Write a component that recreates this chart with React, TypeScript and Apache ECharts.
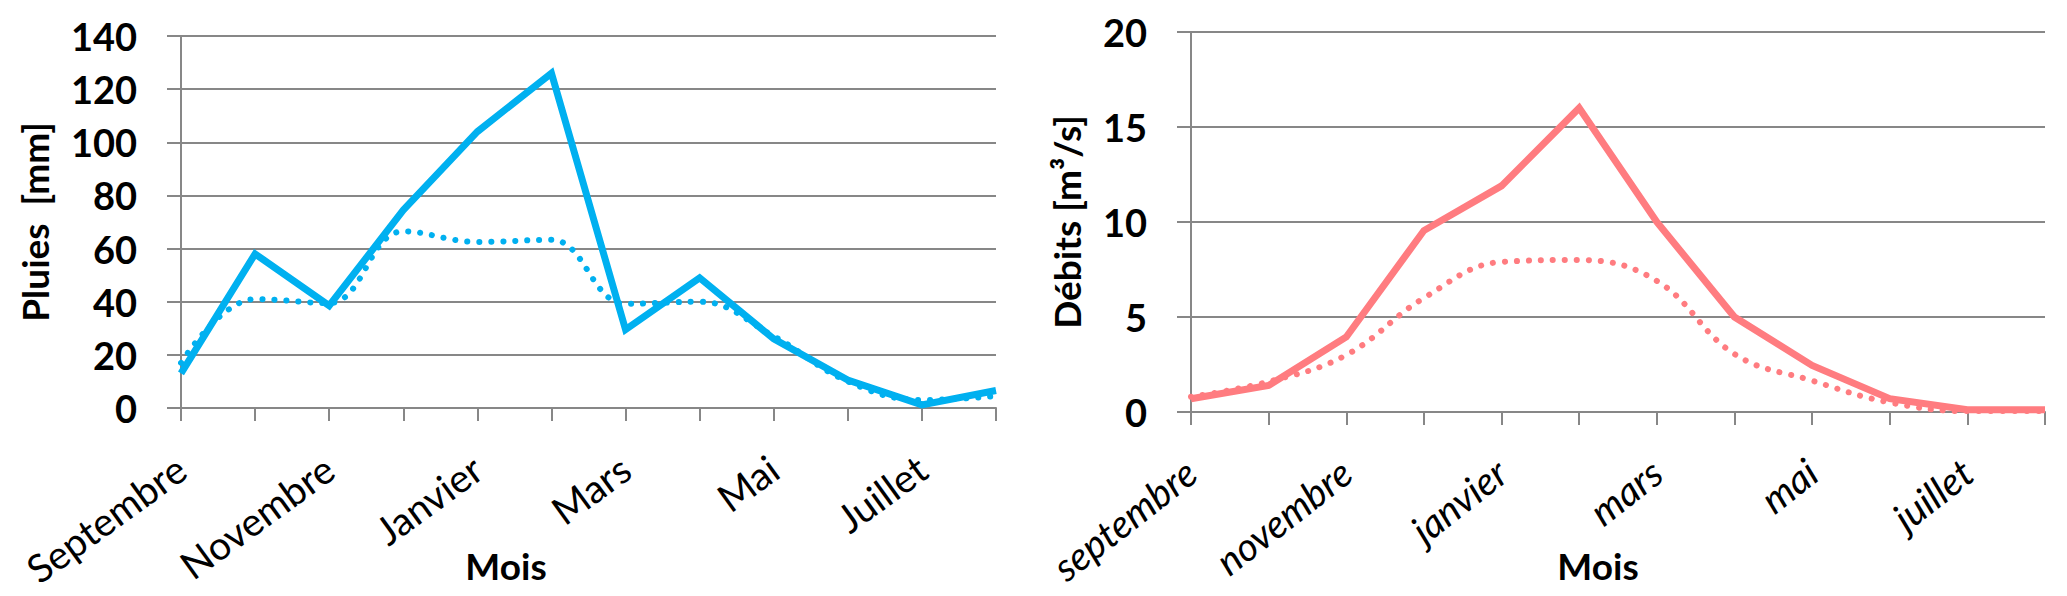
import React, { useEffect, useRef } from "react";
import * as echarts from "echarts";

const moisPluies = ["Septembre", "Octobre", "Novembre", "Décembre", "Janvier", "Février", "Mars", "Avril", "Mai", "Juin", "Juillet", "Août"];
const moisDebits = ["septembre", "octobre", "novembre", "décembre", "janvier", "février", "mars", "avril", "mai", "juin", "juillet", "août"];

const pluiesAnnee = [13, 58, 38.5, 74.5, 104, 126, 29.5, 49, 26, 10.5, 1.2, 6.6];
const pluiesMoyenne = [17, 41, 39.5, 66.5, 62.5, 63.3, 39.2, 40, 27, 10, 3, 4.5];

const debitsAnnee = [0.7, 1.4, 3.95, 9.55, 11.9, 16, 10, 5, 2.45, 0.7, 0.12, 0.12];
const debitsMoyenne = [0.8, 1.6, 3.0, 6.0, 7.9, 8.0, 6.9, 3.05, 1.65, 0.5, 0.05, 0.05];

const pluiesTicks = { min: 0, max: 140, interval: 20 };
const debitsTicks = { min: 0, max: 20, interval: 5 };

const BLUE = "#00B0F0";
const RED = "#FF7C80";
const GRAY = "#878787";
const FONT = "Lato, 'Open Sans', sans-serif";

function xAxis(data: string[], gridIndex: number, italic: boolean, rotate: number, margin: number) {
  return {
    type: "category",
    gridIndex,
    data,
    boundaryGap: false,
    axisLine: { show: true, lineStyle: { color: GRAY, width: 2 } },
    axisTick: { show: true, interval: 0, length: 13, lineStyle: { color: GRAY, width: 2 } },
    splitLine: { show: false },
    axisLabel: {
      interval: 1,
      rotate,
      margin,
      color: "#000",
      fontFamily: FONT,
      fontSize: 39,
      fontStyle: italic ? "italic" : "normal",
    },
  };
}

function yAxis(gridIndex: number, t: { min: number; max: number; interval: number }, name: string, nameGap: number) {
  return {
    type: "value",
    gridIndex,
    min: t.min,
    max: t.max,
    interval: t.interval,
    name,
    nameLocation: "middle",
    nameGap,
    nameRotate: 90,
    nameTextStyle: { color: "#000", fontFamily: FONT, fontWeight: "bold", fontSize: 37 },
    axisLine: { show: true, lineStyle: { color: GRAY, width: 2 } },
    axisTick: { show: true, length: 14, lineStyle: { color: GRAY, width: 2 } },
    splitLine: { show: true, lineStyle: { color: GRAY, width: 2 } },
    axisLabel: { margin: 44, color: "#000", fontFamily: FONT, fontWeight: "bold", fontSize: 38 },
  };
}

function solid(data: number[], color: string, idx: number) {
  return {
    type: "line",
    xAxisIndex: idx,
    yAxisIndex: idx,
    data,
    symbol: "none",
    z: 4,
    lineStyle: { color, width: 7, join: "miter" },
  };
}

function dotted(data: number[], color: string, idx: number) {
  return {
    type: "line",
    xAxisIndex: idx,
    yAxisIndex: idx,
    data,
    symbol: "none",
    smooth: 0.4,
    z: 3,
    lineStyle: { color, width: 6, type: [0.1, 11.9], cap: "round" },
  };
}

export default function App() {
  const ref = useRef<HTMLDivElement>(null);
  useEffect(() => {
    if (!ref.current) return;
    const chart = echarts.init(ref.current, undefined, { renderer: "svg" });
    chart.setOption({
      animation: false,
      backgroundColor: "#fff",
      grid: [
        { left: 181, top: 36, width: 815, height: 372 },
        { left: 1191, top: 32, width: 854, height: 380 },
      ],
      xAxis: [xAxis(moisPluies, 0, false, 36, 56), xAxis(moisDebits, 1, true, 38, 55)],
      yAxis: [yAxis(0, pluiesTicks, "Pluies  [mm]", 128), yAxis(1, debitsTicks, "Débits [m³/s]", 106)],
      graphic: [
        { type: "text", x: 506, y: 565, style: { text: "Mois", fill: "#000", font: `bold 37px ${FONT}`, align: "center", verticalAlign: "middle" } },
        { type: "text", x: 1598, y: 565, style: { text: "Mois", fill: "#000", font: `bold 37px ${FONT}`, align: "center", verticalAlign: "middle" } },
      ],
      series: [
        dotted(pluiesMoyenne, BLUE, 0),
        solid(pluiesAnnee, BLUE, 0),
        dotted(debitsMoyenne, RED, 1),
        solid(debitsAnnee, RED, 1),
      ],
    });
    return () => chart.dispose();
  }, []);
  return <div ref={ref} style={{ position: "absolute", left: 0, top: 0, width: 2067, height: 596 }} />;
}
